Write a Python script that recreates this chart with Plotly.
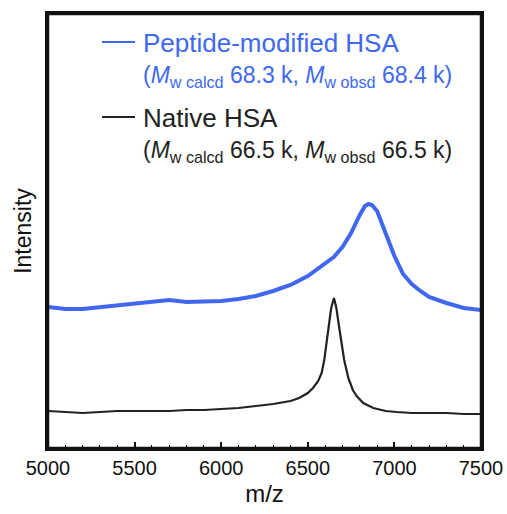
import plotly.graph_objects as go

# m/z positions and intensities (arbitrary units)
mz_modified = [5000, 5100, 5200, 5300, 5400, 5500, 5600, 5700, 5800, 5900, 6000,
               6100, 6200, 6300, 6400, 6500, 6600, 6650, 6700, 6750, 6800, 6830,
               6850, 6870, 6900, 6930, 6960, 7000, 7050, 7100, 7150, 7200, 7300,
               7400, 7500]
int_modified = [141, 139, 139, 141, 143, 145, 147, 148, 146, 146, 147,
                149, 152, 157, 163, 172, 184, 191, 201, 215, 233, 242,
                244, 243, 237, 224, 209, 192, 174, 164, 157, 151, 145,
                140, 138]

mz_native = [5000, 5100, 5200, 5300, 5400, 5500, 5600, 5700, 5800, 5900, 6000,
             6100, 6200, 6300, 6400, 6450, 6500, 6530, 6560, 6580, 6595, 6609,
             6620, 6635, 6651, 6665, 6680, 6695, 6710, 6734, 6760, 6782, 6820,
             6878, 6950, 7013, 7100, 7200, 7300, 7400, 7500]
int_native = [37, 36, 35, 36, 37, 37, 37, 37, 38, 38, 39,
              40, 42, 44, 47, 50, 55, 60, 67, 75, 88, 105,
              122, 140, 150, 140, 122, 103, 88, 70, 58, 52, 45,
              40, 37, 36, 35, 35, 35, 34, 34]

x_ticks = [5000, 5500, 6000, 6500, 7000, 7500]

BLUE = "#4068EE"
BLACK = "#222222"
FONT = "Liberation Sans, Arial, sans-serif"

fig = go.Figure()
fig.add_trace(go.Scatter(x=mz_modified, y=int_modified, mode="lines",
                         line=dict(color=BLUE, width=4), showlegend=False))
fig.add_trace(go.Scatter(x=mz_native, y=int_native, mode="lines",
                         line=dict(color=BLACK, width=2.2), showlegend=False))

L, R, T, B = 48, 481, 14, 448
W, H = 507, 514


def px(xp):
    return (xp - L) / (R - L)


def py(yp):
    return (B - yp) / (B - T)


# plot frame
fig.add_shape(type="rect", xref="paper", yref="paper", x0=0, x1=1, y0=0, y1=1,
              line=dict(color="#111111", width=2.5), layer="above")

# legend keys
for yk, col in [(42, BLUE), (117, BLACK)]:
    fig.add_shape(type="line", xref="paper", yref="paper",
                  x0=px(102), x1=px(135), y0=py(yk), y1=py(yk),
                  line=dict(color=col, width=2))

ann = [
    ("Peptide-modified HSA", 43, BLUE, 26),
    ("(<i>M</i><sub>w calcd</sub> 68.3 k, <i>M</i><sub>w obsd</sub> 68.4 k)", 76, BLUE, 23),
    ("Native HSA", 118, BLACK, 26),
    ("(<i>M</i><sub>w calcd</sub> 66.5 k, <i>M</i><sub>w obsd</sub> 66.5 k)", 151, BLACK, 23),
]
for txt, yy, col, sz in ann:
    fig.add_annotation(text=txt, xref="paper", yref="paper", x=px(141), y=py(yy),
                       xanchor="left", yanchor="middle", showarrow=False,
                       font=dict(color=col, size=sz, family=FONT))

fig.update_layout(
    width=W, height=H,
    margin=dict(l=L, r=W - R, t=T, b=H - B, autoexpand=False),
    paper_bgcolor="white", plot_bgcolor="white",
    font=dict(family=FONT, color="#111111"),
    xaxis=dict(range=[5000, 7500], tickvals=x_ticks, automargin=False,
               ticktext=[str(v) for v in x_ticks],
               ticks="inside", ticklen=6, tickwidth=1.5, tickcolor="#111111",
               minor=dict(ticks="inside", ticklen=3, dtick=100, tickwidth=1.2,
                          tickcolor="#111111"),
               showline=True, linecolor="#111111", linewidth=2.5, mirror=True,
               showgrid=False, zeroline=False,
               tickfont=dict(size=20, family=FONT, color="#111111"),
               title=dict(text="m/z", font=dict(size=24, family=FONT), standoff=8)),
    yaxis=dict(range=[0, B - T], showticklabels=False, ticks="", automargin=False,
               showline=True, linecolor="#111111", linewidth=2.5, mirror=True,
               showgrid=False, zeroline=False,
               title=dict(text="Intensity", font=dict(size=23, family=FONT), standoff=8)),
)

fig.write_html("out.html")
